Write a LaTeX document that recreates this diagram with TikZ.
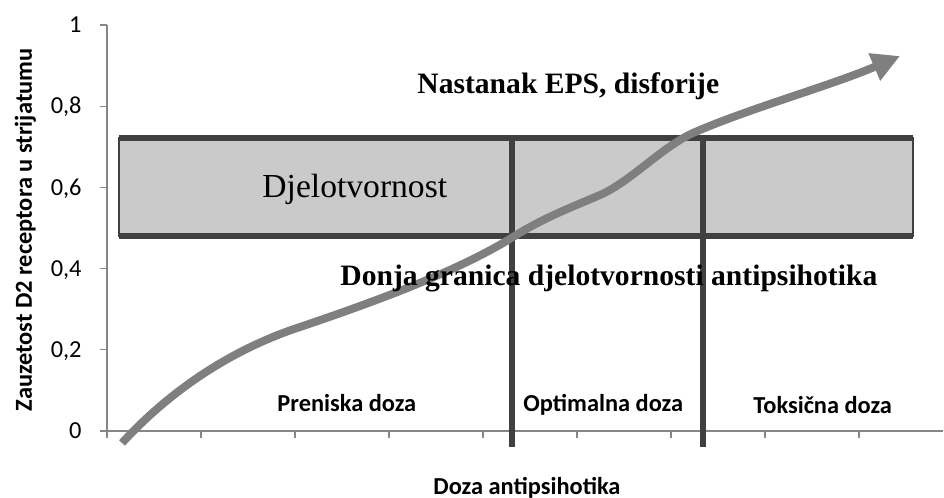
\documentclass[tikz,border=0pt]{standalone}
\usepackage{fontspec}
\setmainfont{Liberation Serif}
\newfontfamily\chartfont{Carlito}
\usetikzlibrary{positioning,arrows.meta}
\definecolor{barline}{HTML}{404040}
\definecolor{curvegray}{HTML}{7F7F7F}
\definecolor{axisgray}{HTML}{868686}
\definecolor{zonefill}{HTML}{CACACA}
\tikzset{
  occ axis/.style={draw=axisgray, line width=0.6pt},
  occ bar/.style={draw=barline, line width=3pt},
  occ curve/.style={draw=curvegray, line width=4pt, -{Triangle[length=14pt,width=14pt]}},
  occ tick/.style={font=\chartfont\fontsize{12.2}{14}\selectfont, anchor=base east, inner sep=0pt},
  occ zone/.style={font=\chartfont\bfseries\fontsize{12.2}{14}\selectfont, anchor=base west, inner sep=0pt},
  occ note/.style={font=\bfseries\fontsize{14.8}{17}\selectfont, anchor=base west, inner sep=0pt}
}

\begin{document}
\begin{tikzpicture}[x=0.5pt, y=-0.5pt]
    \useasboundingbox (0,0) rectangle (944,498);

    % Axes and ticks
    \coordinate (origin) at (107,431);
    \coordinate (ytop) at (107,25);
    \coordinate (xend) at (943,431);
    \draw [occ axis] (ytop) -- (origin) -- (xend);
    \foreach \v/\lab [count=\k] in {0/0, 0.2/{0,2}, 0.4/{0,4}, 0.6/{0,6}, 0.8/{0,8}, 1/1} {
        \draw [occ axis] (100,{431-406*\v}) -- (107,{431-406*\v});
        \node [occ tick] (ytick\k) at (82,{438.7-406*\v}) {\lab};
    }
    \foreach \k in {0,...,8}
        \draw [occ axis] ({107+94*\k},431) -- ({107+94*\k},438);

    % Effective zone
    \coordinate (zoneNW) at (119,137.5);
    \coordinate (zoneSE) at (913,236);
    \fill [zonefill] (zoneNW) rectangle (zoneSE);
    \draw [barline, line width=0.7pt] (zoneNW) rectangle (zoneSE);
    \draw [occ bar] (zoneNW) -- (zoneNW -| zoneSE);
    \draw [occ bar] (zoneNW |- zoneSE) -- (zoneSE);

    % Dose limits
    \draw [occ bar] (512,135) -- (512,447);
    \draw [occ bar] (703,135) -- (703,447);

    % Occupancy curve
    \coordinate (cstart) at (122,443);
    \coordinate (cend) at (900,56);
    \draw [occ curve] (cstart)
        .. controls (180,380) and (245,345) .. (300,327)
        .. controls (380,300) and (460,270) .. (513,237)
        .. controls (545,217) and (570,208) .. (600,195)
        .. controls (630,182) and (662,147) .. (693,133)
        .. controls (750,108) and (830,86) .. (cend);

    % Labels
    \node [occ note] (eps) at (417,93) {Nastanak EPS, disforije};
    \node [anchor=base west, inner sep=0pt, font=\fontsize{16.8}{20}\selectfont] (eff) at (262,197) {Djelotvornost};
    \node [occ note] (lower) at (340,285) {Donja granica djelotvornosti antipsihotika};
    \node [occ zone] (low) at (277,411) {Preniska doza};
    \node [occ zone] (opt) at (523,411) {Optimalna doza};
    \node [occ zone] (tox) at (753,413) {Toksična doza};
    \node [occ zone] (xlab) at (433,494) {Doza antipsihotika};
    \node [occ zone, anchor=base, rotate=90] (ylab) at (32,230) {Zauzetost D2 receptora u strijatumu};
\end{tikzpicture}
\end{document}
